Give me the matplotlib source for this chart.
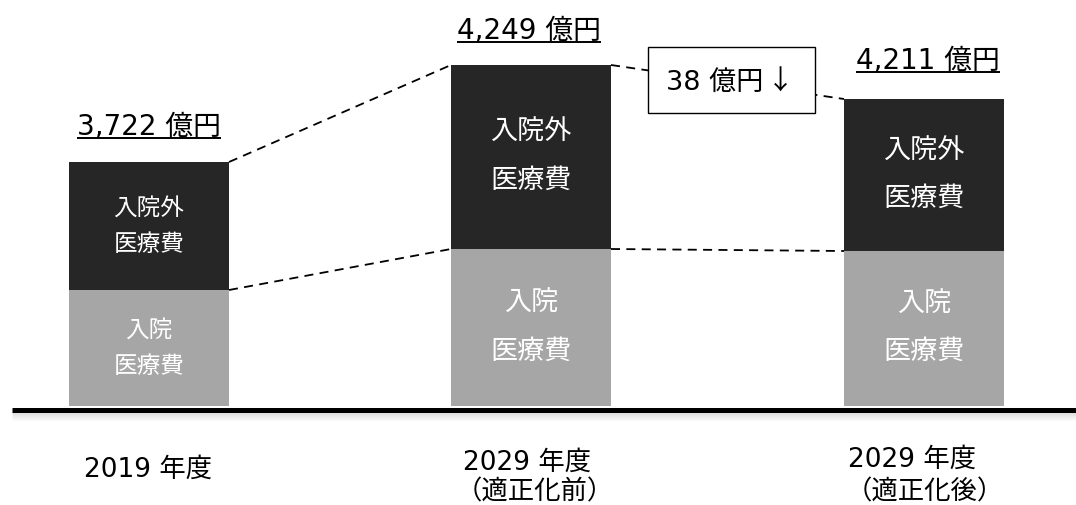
import matplotlib
matplotlib.use("Agg")
import matplotlib.pyplot as plt
from matplotlib.patches import Rectangle

plt.rcParams['font.family'] = ['DejaVu Sans', 'Noto Sans CJK JP']

# ---- data ----
categories = ["2019 年度", "2029 年度", "2029 年度"]
category_sub = ["", "（適正化前）", "（適正化後）"]
total_labels = ["3,722 億円", "4,249 億円", "4,211 億円"]
totals = [3722, 4249, 4211]
# segment heights as drawn in the (schematic, not to scale) original
inpatient = [116, 157, 155]
outpatient = [128, 184, 152]
inpatient_label = "入院\n医療費"
outpatient_label = "入院外\n医療費"
reduction_label = "38 億円"
reduction_arrow = "↓"

# ---- layout ----
W, H = 1076, 505
BASE = 406  # pixel row of value 0
fig = plt.figure(figsize=(W / 100, H / 100), dpi=100)
ax = fig.add_axes([0, 0, 1, 1])
ax.set_xlim(0, W)
ax.set_ylim(BASE - H, BASE)
ax.axis('off')

def P(py):
    """convert pixel-from-top to data y"""
    return BASE - py

xpos = [149, 531, 924]
width = 160
gray = '#a6a6a6'
dark = '#262626'

ax.bar(xpos, inpatient, width=width, color=gray, zorder=2)
ax.bar(xpos, outpatient, width=width, bottom=inpatient, color=dark, zorder=2)

# labels inside bars
in_fs = [17, 19.5, 19.5]
line_gap = [36, 48, 47]
for i, x in enumerate(xpos):
    for lab, bot, h in [(outpatient_label, inpatient[i], outpatient[i]),
                        (inpatient_label, 0, inpatient[i])]:
        c = bot + h / 2
        l1, l2 = lab.split("\n")
        ax.text(x, c + line_gap[i] / 2, l1, color='white', ha='center', va='center',
                fontsize=in_fs[i], zorder=3)
        ax.text(x, c - line_gap[i] / 2, l2, color='white', ha='center', va='center',
                fontsize=in_fs[i], zorder=3)

# dashed connectors (from stacked tops)
tops = [a + b for a, b in zip(inpatient, outpatient)]
half = width / 2
for i in range(len(xpos) - 1):
    ax.plot([xpos[i] + half, xpos[i + 1] - half], [tops[i], tops[i + 1]],
            ls=(0, (5, 3.5)), color='black', lw=1.3, zorder=1)
    ax.plot([xpos[i] + half, xpos[i + 1] - half], [inpatient[i], inpatient[i + 1]],
            ls=(0, (5, 3.5)), color='black', lw=1.3, zorder=1)

# reduction box
bx0, bx1, by0, by1 = 648, 815, 47, 113
ax.add_patch(Rectangle((bx0, P(by1)), bx1 - bx0, by1 - by0, facecolor='white',
                       edgecolor='black', lw=1.0, zorder=4))
ax.text(666, P(90), reduction_label, ha='left', va='baseline', fontsize=19.5, zorder=5)
ax.text(780, P(82), reduction_arrow, ha='center', va='center', fontsize=19.5,
        family=['Noto Sans CJK JP'], zorder=5)

# total labels with underline (baseline pixel rows)
total_pos = [(149, 135), (529, 39), (928, 69)]
fig.canvas.draw()
renderer = fig.canvas.get_renderer()
inv = ax.transData.inverted()
for lab, (x, py) in zip(total_labels, total_pos):
    t = ax.text(x, P(py), lab, ha='center', va='baseline', fontsize=20, zorder=5)
    bb = t.get_window_extent(renderer)
    (x0, _), (x1, _) = inv.transform([(bb.x0, 0), (bb.x1, 0)])
    ax.plot([x0, x1], [P(py + 3), P(py + 3)], color='black', lw=1.4, zorder=5,
            solid_capstyle='butt')

# baseline with soft shadow
for k in range(9):
    ax.plot([12, W], [P(412 + k), P(412 + k)], color='black',
            alpha=0.10 * (1 - k / 9), lw=1.0, zorder=1, solid_capstyle='butt')
ax.plot([12, W], [P(409.5), P(409.5)], color='black', lw=3.6, zorder=3,
        solid_capstyle='butt')

# category labels (baseline rows; sub-line centers)
cat_pos = [(148, 477), (527, 470), (912, 467)]
sub_pos = [None, (535, 492), (925, 492)]
for (x, py), c, s, sp in zip(cat_pos, categories, category_sub, sub_pos):
    ax.text(x, P(py), c, ha='center', va='baseline', fontsize=19)
    if s:
        ax.text(sp[0], P(sp[1]), s, ha='center', va='center', fontsize=19)

fig.savefig('out.png', dpi=100)
